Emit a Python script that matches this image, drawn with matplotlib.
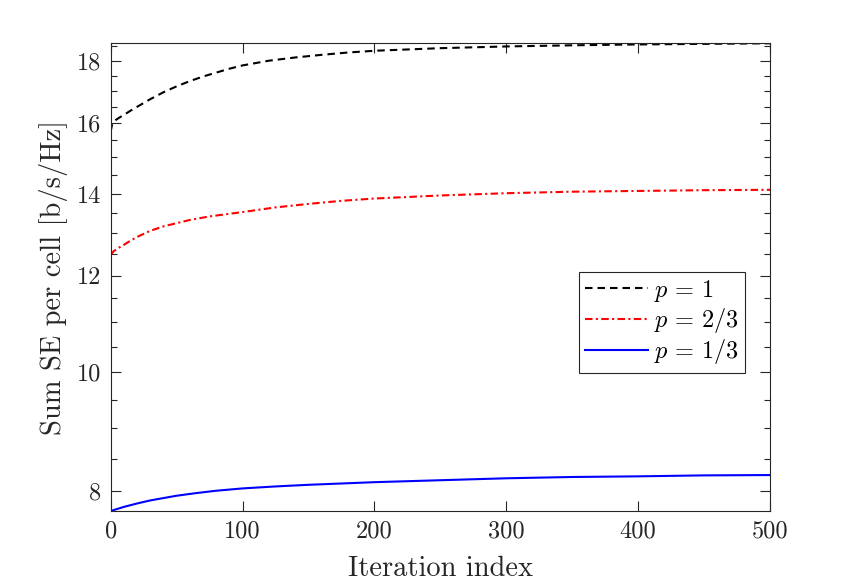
import matplotlib
matplotlib.use("Agg")
import matplotlib.pyplot as plt
from matplotlib.ticker import FixedLocator, NullFormatter

plt.rcParams['font.family'] = 'serif'
plt.rcParams['font.serif'] = ['cmr10', 'DejaVu Serif']
plt.rcParams['mathtext.fontset'] = 'cm'
plt.rcParams['axes.formatter.use_mathtext'] = True

# Data
x_p1 = [0, 1, 2, 4, 7, 10, 15, 20, 25, 30, 40, 50, 60, 70, 80, 90, 100, 120, 140, 160, 180,
        200, 250, 300, 350, 400, 450, 500]
y_p1 = [15.75, 15.95, 16.02, 16.1, 16.18, 16.25, 16.38, 16.5, 16.62, 16.74, 16.96, 17.15,
        17.32, 17.47, 17.6, 17.73, 17.84, 18.0, 18.11, 18.2, 18.28, 18.34, 18.43, 18.49,
        18.53, 18.56, 18.58, 18.6]

x_p23 = [0, 2, 5, 10, 15, 20, 30, 40, 50, 60, 75, 100, 125, 150, 175, 200, 250, 300, 350,
         400, 450, 500]
y_p23 = [12.48, 12.56, 12.63, 12.72, 12.82, 12.91, 13.06, 13.17, 13.25, 13.33, 13.42, 13.53,
         13.65, 13.74, 13.82, 13.88, 13.96, 14.02, 14.06, 14.08, 14.10, 14.11]

x_p13 = [0, 5, 10, 20, 30, 40, 50, 65, 80, 100, 125, 150, 175, 200, 250, 300, 350, 400, 450,
         500]
y_p13 = [7.70, 7.73, 7.76, 7.81, 7.855, 7.89, 7.925, 7.965, 8.0, 8.035, 8.065, 8.09, 8.11, 8.13,
         8.16, 8.19, 8.21, 8.22, 8.235, 8.24]

labels = [r'$p\,=\,1$', r'$p\,=\,2/3$', r'$p\,=\,1/3$']
x_ticks = [0, 100, 200, 300, 400, 500]
y_ticks = [8, 10, 12, 14, 16, 18]
y_minor = [8.5, 9, 9.5, 10.5, 11, 11.5, 12.5, 13, 13.5, 14.5, 15, 15.5, 16.5, 17, 17.5, 18.5]

fig = plt.figure(figsize=(8.5, 5.86), dpi=100)
ax = fig.add_axes([110.7 / 850, 1 - 511 / 586, (770 - 110.7) / 850, (511 - 43.3) / 586])

ax.plot(x_p1, y_p1, color='black', lw=1.5, linestyle=(0, (3.6, 2.4)), label=labels[0])
ax.plot(x_p23, y_p23, color='red', lw=1.5, linestyle=(0, (3.6, 1.6, 1.0, 1.6)), label=labels[1])
ax.plot(x_p13, y_p13, color='blue', lw=1.5, linestyle='-', label=labels[2])

ax.set_yscale('log')
ax.set_xlim(0, 500)
ax.set_ylim(min(y_p13), max(y_p1))
ax.yaxis.set_major_locator(FixedLocator(y_ticks))
ax.set_yticklabels([str(v) for v in y_ticks])
ax.yaxis.set_minor_locator(FixedLocator(y_minor))
ax.yaxis.set_minor_formatter(NullFormatter())
ax.set_xticks(x_ticks)
ax.set_xticklabels([str(v) for v in x_ticks])

edge = (0.15, 0.15, 0.15)
for s in ax.spines.values():
    s.set_color(edge)
    s.set_linewidth(0.8)
ax.tick_params(which='both', direction='in', top=True, right=True, color=edge,
               labelcolor=edge, labelsize=17.5, width=0.8)
ax.tick_params(which='major', length=7, pad=7)
ax.tick_params(which='minor', length=4)

ax.set_xlabel('Iteration index', fontsize=20.5, color=edge, labelpad=9)
ax.set_ylabel('Sum SE per cell [b/s/Hz]', fontsize=20.5, color=edge, labelpad=6)

leg = ax.legend(loc='upper right', bbox_to_anchor=(0.962, 0.512), fontsize=17.5,
                frameon=True, fancybox=False, edgecolor=edge, framealpha=1,
                handlelength=2.6, handletextpad=0.25, borderpad=0.25, labelspacing=0.1,
                borderaxespad=0)
leg.get_frame().set_linewidth(0.8)

fig.savefig('out.png', dpi=100)
